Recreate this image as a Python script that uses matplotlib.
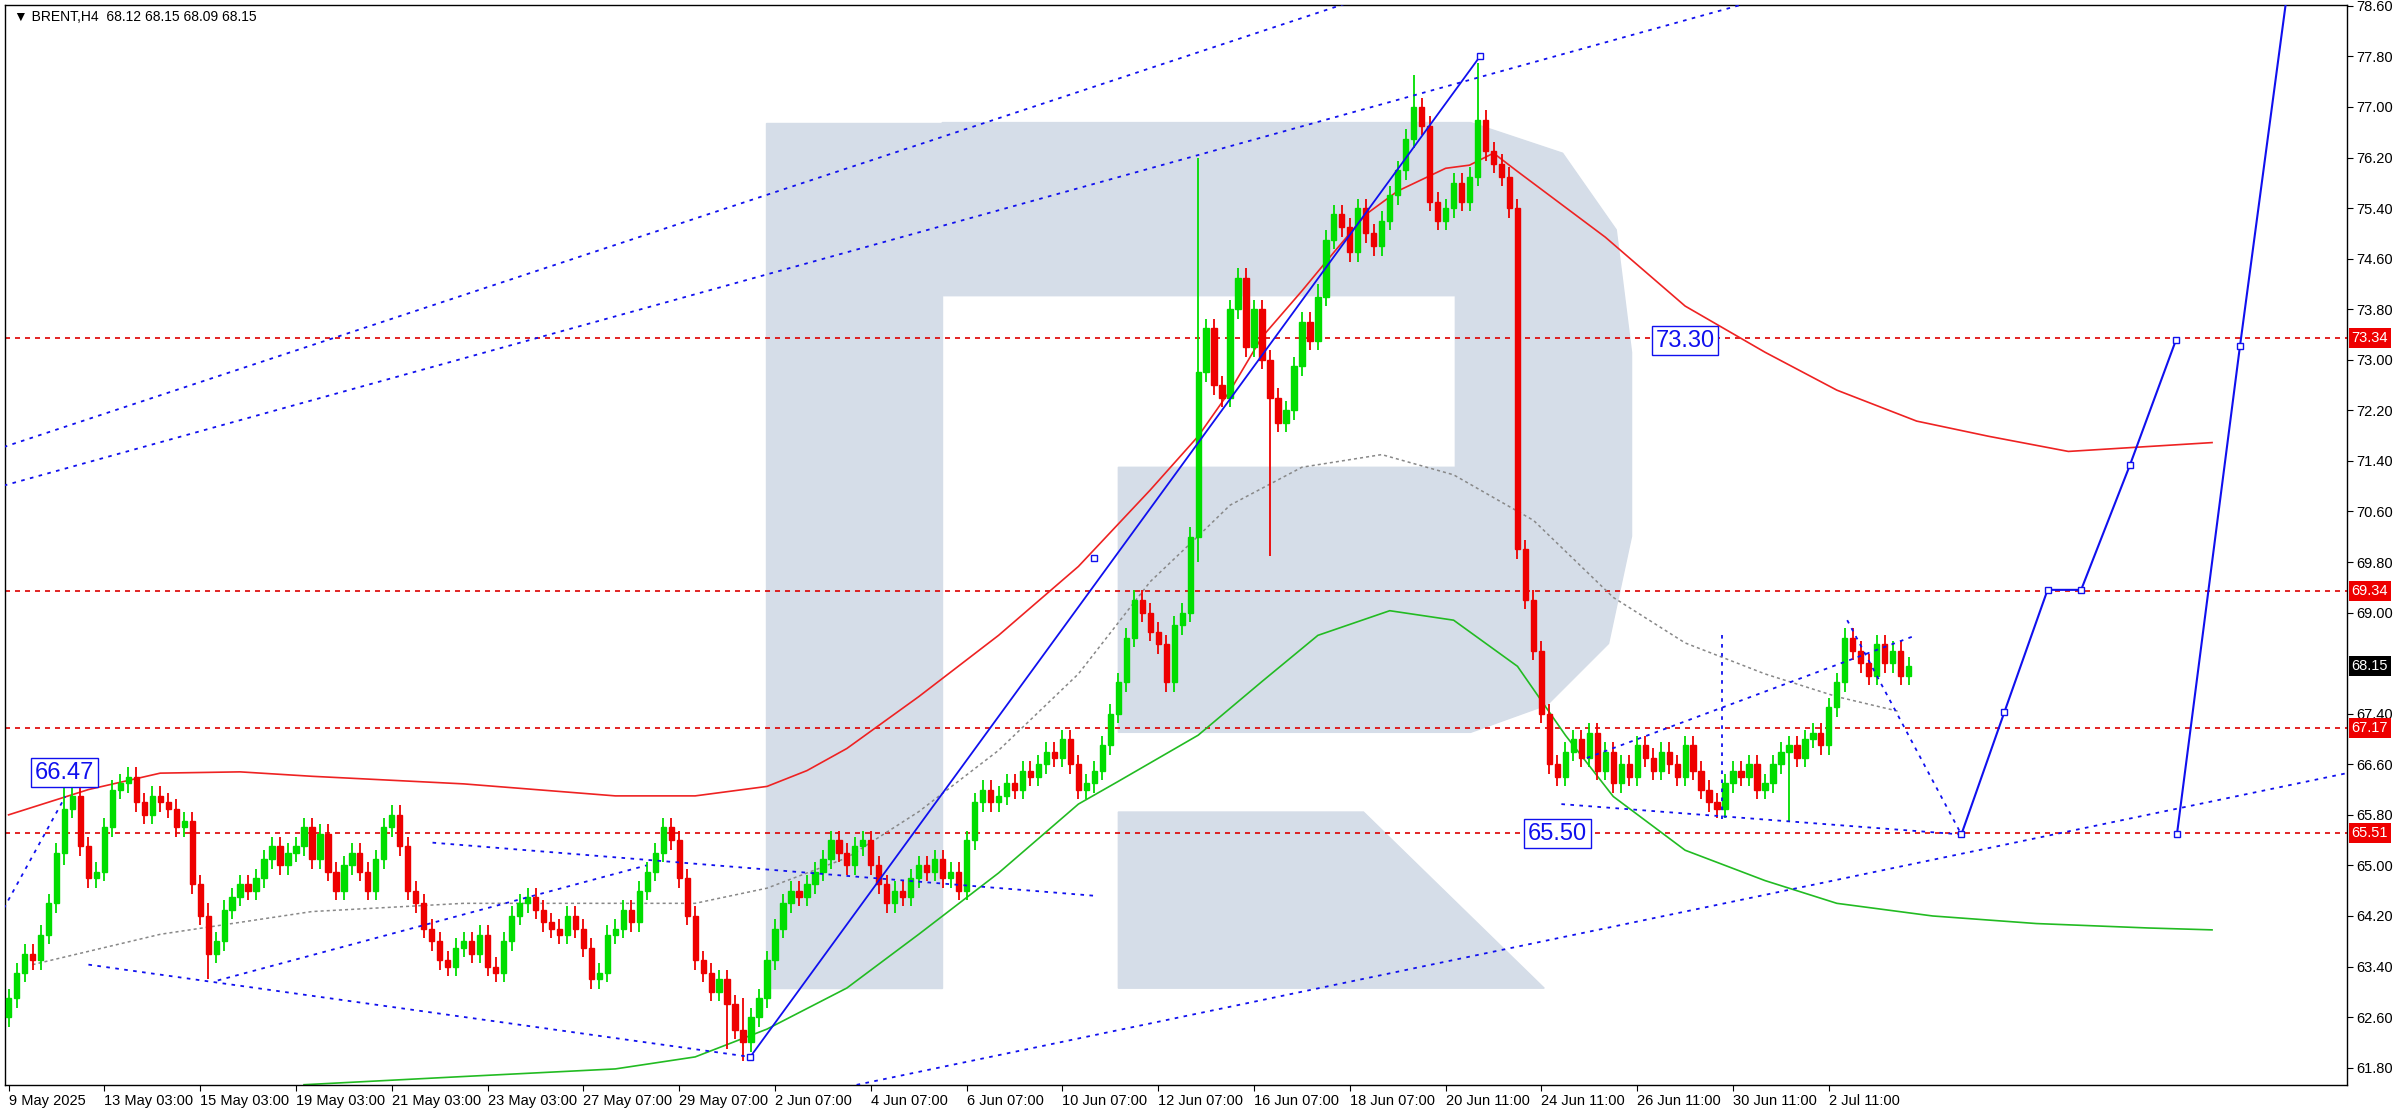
import numpy as np
import matplotlib.pyplot as plt
from matplotlib.patches import Polygon, Rectangle

plt.rcParams["font.family"] = "Liberation Sans"

# closes of the H4 candles (12 bars per 2 trading days)
closes = [
    62.9, 63.3, 63.6, 63.5, 63.9, 64.4, 65.2, 65.9, 66.1, 65.3, 64.8, 64.9,
    65.6, 66.2, 66.3, 66.4, 66.0, 65.8, 66.1, 66.0, 65.9, 65.6, 65.7, 64.7,
    64.2, 63.6, 63.8, 64.3, 64.5, 64.7, 64.6, 64.8, 65.1, 65.3, 65.0, 65.2,
    65.3, 65.6, 65.1, 65.5, 64.9, 64.6, 65.0, 65.2, 64.9, 64.6, 65.1, 65.6,
    65.8, 65.3, 64.6, 64.4, 64.0, 63.8, 63.5, 63.4, 63.7, 63.8, 63.6, 63.9,
    63.4, 63.3, 63.8, 64.2, 64.4, 64.5, 64.3, 64.1, 64.0, 63.9, 64.2, 64.0,
    63.7, 63.2, 63.3, 63.9, 64.0, 64.3, 64.1, 64.6, 64.9, 65.2, 65.6, 65.4,
    64.8, 64.2, 63.5, 63.3, 63.0, 63.2, 62.8, 62.4, 62.2, 62.6, 62.9, 63.5,
    64.0, 64.4, 64.6, 64.5, 64.7, 64.9, 65.1, 65.4, 65.2, 65.0, 65.3, 65.4,
    65.0, 64.7, 64.4, 64.6, 64.5, 64.8, 65.0, 64.9, 65.1, 64.8, 64.9, 64.6,
    65.4, 66.0, 66.2, 66.0, 66.1, 66.3, 66.2, 66.5, 66.4, 66.6, 66.8, 66.7,
    67.0, 66.6, 66.2, 66.3, 66.5, 66.9, 67.4, 67.9, 68.6, 69.2, 69.0, 68.7,
    68.5, 67.9, 68.8, 69.0, 70.2, 72.8, 73.5, 72.6, 72.4, 73.8, 74.3, 73.2,
    73.8, 73.0, 72.4, 72.0, 72.2, 72.9, 73.6, 73.3, 74.0, 74.9, 75.3, 75.1,
    74.7, 75.4, 75.0, 74.8, 75.2, 75.6, 76.0, 76.5, 77.0, 76.7, 75.5, 75.2,
    75.4, 75.8, 75.5, 75.9, 76.8, 76.3, 76.1, 75.9, 75.4, 70.0, 69.2, 68.4,
    67.4, 66.6, 66.4, 66.8, 67.0, 66.7, 67.1, 66.5, 66.8, 66.3, 66.6, 66.4,
    66.9, 66.7, 66.5, 66.8, 66.6, 66.4, 66.9, 66.5, 66.2, 66.0, 65.9, 66.3,
    66.5, 66.4, 66.6, 66.2, 66.3, 66.6, 66.8, 66.9, 66.7, 67.0, 67.1, 66.9,
    67.5, 67.9, 68.6, 68.4, 68.2, 68.0, 68.5, 68.2, 68.4, 68.0, 68.15,
]
first_open = 62.6
# bars with long wicks: index, high, low
wick_idx = [7, 25, 90, 92, 149, 158, 164, 176, 184, 223]
wick_hi = [66.5, 64.4, 63.0, 62.9, 76.2, 72.6, 74.2, 77.5, 77.7, 66.6]
wick_lo = [65.0, 63.2, 62.1, 61.9, 69.8, 69.9, 73.3, 76.4, 76.2, 65.7]

# indicator curves (bar, price)
red_x = [0, 10, 19, 29, 38, 57, 76, 86, 95, 100, 105, 114, 124, 134, 143, 149, 153, 157, 162, 166, 170, 174, 180, 183,
         186, 189, 200, 210, 220, 229, 239, 248, 258, 276]
red_y = [65.8, 66.2, 66.46, 66.48, 66.41, 66.29, 66.10, 66.10, 66.25, 66.5, 66.85, 67.67, 68.64, 69.73, 70.94, 71.79,
         72.51, 73.36, 74.09, 74.70, 75.30, 75.67, 76.03, 76.08, 76.27, 75.98, 74.94, 73.85, 73.12, 72.52, 72.03, 71.79,
         71.55, 71.69]
green_x = [37, 57, 76, 86, 95, 105, 114, 124, 134, 139, 149, 157, 164, 173, 181, 189, 195, 201, 210, 220, 229, 241, 254,
           268, 276]
green_y = [61.53, 61.66, 61.78, 61.97, 62.41, 63.06, 63.91, 64.88, 65.97, 66.33, 67.06, 67.91, 68.64, 69.03, 68.88, 68.15,
           67.06, 66.09, 65.24, 64.76, 64.40, 64.20, 64.08, 64.01, 63.98]
grey_x = [3, 19, 38, 57, 76, 86, 95, 105, 114, 124, 134, 143, 149, 153, 162, 172, 181, 191, 201, 210, 220, 229, 237]
grey_y = [63.43, 63.91, 64.27, 64.40, 64.40, 64.40, 64.64, 65.12, 65.85, 66.82, 68.03, 69.49, 70.21, 70.70, 71.30, 71.50,
          71.18, 70.46, 69.24, 68.52, 68.03, 67.67, 67.43]

# blue annotation lines, each (x0, y0, x1, y1) in bars / price
dotted_lines = [
    (-0.6, 71.62, 169.0, 78.70),
    (-0.6, 71.01, 219.4, 78.70),
    (102.9, 61.44, 292.9, 66.46),
    (-0.6, 64.32, 7.1, 66.09),
    (10.0, 63.43, 92.9, 61.97),
    (26.2, 63.18, 79.9, 65.00),
    (53.1, 65.36, 136.0, 64.52),
    (194.5, 65.97, 244.6, 65.49),
    (197.7, 66.70, 238.9, 68.64),
    (214.6, 68.64, 214.6, 65.73),
    (230.3, 68.88, 244.6, 65.49),
]
solid_x = [92.9, 184.3]
solid_y = [61.97, 77.80]
fc1_x = [244.6, 250.0, 255.4, 259.6, 265.7, 271.5]
fc1_y = [65.49, 67.43, 69.36, 69.36, 71.33, 73.32]
fc2_x = [271.6, 279.5, 285.3]
fc2_y = [65.49, 73.22, 78.70]

levels = [73.34, 69.34, 67.17, 65.51]
tags = [("66.47", 7.0, 66.47), ("73.30", 210.0, 73.30), ("65.50", 194.0, 65.50)]

date_ticks = list(range(0, 240, 12))
date_labels = ["9 May 2025", "13 May 03:00", "15 May 03:00", "19 May 03:00", "21 May 03:00", "23 May 03:00",
               "27 May 07:00", "29 May 07:00", "2 Jun 07:00", "4 Jun 07:00", "6 Jun 07:00", "10 Jun 07:00",
               "12 Jun 07:00", "16 Jun 07:00", "18 Jun 07:00", "20 Jun 11:00", "24 Jun 11:00", "26 Jun 11:00",
               "30 Jun 11:00", "2 Jul 11:00"]

W, H = 1564.0, 724.5  # reference in screen units
fig = plt.figure(figsize=(23.96, 11.10), dpi=100)

# R watermark in a background axes
bg = fig.add_axes([0, 0, 1, 1], zorder=-1)
bg.set_xlim(0, W)
bg.set_ylim(H, 0)
bg.axis("off")
wm = "#d5dde8"
bg.add_patch(Polygon([(500, 80), (615, 80), (615, 645), (500, 645)], closed=True, color=wm))
bg.add_patch(Polygon([(615, 80), (960, 80), (1020, 100), (1055, 150), (1065, 230), (1065, 350), (1050, 420),
                      (1010, 460), (960, 478), (730, 478), (730, 305), (950, 305), (950, 193), (615, 193)],
                     closed=True, color=wm))
bg.add_patch(Polygon([(730, 530), (890, 530), (1008, 645), (730, 645)], closed=True, color=wm))

ax = fig.add_axes([3 / W, 1 - 708 / H, 1529 / W, 705 / H], zorder=1)
ax.patch.set_alpha(0)
ax.set_xlim(-0.5, 292.9)
ax.set_ylim(61.53, 78.62)

# candles
n = len(closes)
opens = [first_open] + closes[:-1]
highs = [max(o, c) + 0.15 for o, c in zip(opens, closes)]
lows = [min(o, c) - 0.15 for o, c in zip(opens, closes)]
for i, hi, lo in zip(wick_idx, wick_hi, wick_lo):
    highs[i] = max(highs[i], hi)
    lows[i] = min(lows[i], lo)
for i in range(n):
    col = "#00dd00" if closes[i] >= opens[i] else "#ee0000"
    ax.vlines(i, lows[i], highs[i], color=col, lw=1.3, zorder=3)
    b = min(opens[i], closes[i])
    h = max(abs(closes[i] - opens[i]), 0.03)
    ax.add_patch(Rectangle((i - 0.33, b), 0.66, h, color=col, zorder=4))

ax.plot(red_x, red_y, color="#ee2222", lw=1.2, zorder=2)
ax.plot(green_x, green_y, color="#22bb22", lw=1.2, zorder=2)
ax.plot(grey_x, grey_y, color="#888888", lw=1.1, ls=(0, (2, 2)), zorder=2)

for x0, y0, x1, y1 in dotted_lines:
    ax.plot([x0, x1], [y0, y1], color="#1010ee", lw=1.3, ls=(0, (2, 3)), zorder=5)
ax.plot(solid_x, solid_y, color="#1010ee", lw=1.3, marker="s", ms=5, mfc="white", zorder=5)
ax.plot([136.0], [69.87], ls="none", marker="s", ms=5, mfc="white", mec="#1010ee", zorder=6)
ax.plot(fc1_x, fc1_y, color="#1010ee", lw=1.5, marker="s", ms=5, mfc="white", zorder=5)
ax.plot(fc2_x, fc2_y, color="#1010ee", lw=1.5, marker="s", ms=5, mfc="white", markevery=[0, 1], zorder=5)

for lv in levels:
    ax.axhline(lv, color="#dd0000", lw=1.2, ls=(0, (3, 3)), zorder=1)
    ax.text(1.002, lv, f"{lv:.2f}", transform=ax.get_yaxis_transform(), va="center", ha="left", fontsize=10.5,
            color="white", bbox=dict(boxstyle="square,pad=0.2", fc="#ee0000", ec="none"))
ax.text(1.002, closes[-1], f"{closes[-1]:.2f}", transform=ax.get_yaxis_transform(), va="center", ha="left",
        fontsize=10.5, color="white", bbox=dict(boxstyle="square,pad=0.2", fc="black", ec="none"))

for txt, x, y in tags:
    ax.text(x, y, txt, ha="center", va="center", fontsize=17, color="#1010ee", zorder=7,
            bbox=dict(boxstyle="square,pad=0.15", fc="white", ec="#1010ee", lw=1))

ax.text(0.004, 0.995, "\u25bc BRENT,H4  68.12 68.15 68.09 68.15", transform=ax.transAxes, va="top", ha="left",
        fontsize=10, color="black")

yt = [round(61.8 + 0.8 * k, 2) for k in range(22)]
yt = [v for v in yt if abs(v - 68.2) > 0.01]
ax.yaxis.tick_right()
ax.set_yticks(yt)
ax.set_yticklabels([f"{v:.2f}" for v in yt], fontsize=10.5)
ax.set_xticks(date_ticks)
ax.set_xticklabels(date_labels, fontsize=10.5, ha="left")
ax.tick_params(length=4, color="black", pad=3)
for s in ax.spines.values():
    s.set_color("black")
    s.set_linewidth(1)

fig.savefig("out.png", dpi=100)
